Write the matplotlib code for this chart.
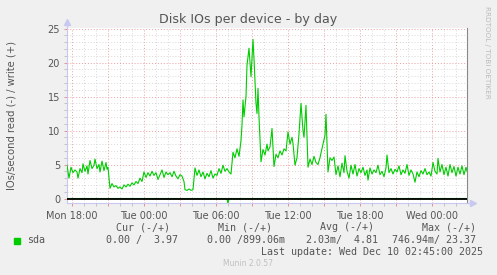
import matplotlib
matplotlib.use("Agg")
import matplotlib.pyplot as plt
from matplotlib.ticker import MultipleLocator, FuncFormatter

# 5-minute rrd slots since Mon 17:35, and write IOs/s (sda)
write_slot = [0, 2, 4, 6, 8, 10, 11, 13, 15, 16, 18, 20, 21, 23, 25, 27, 28, 30, 32, 33,
              35, 37, 39, 40, 41, 43, 45, 47, 49, 51, 53, 55, 57, 59, 61, 63, 65, 67, 69, 71,
              73, 75, 77, 79, 81, 83, 85, 87, 89, 91, 93, 95, 97, 99, 101, 103, 105, 107, 109, 111,
              113, 115, 117, 118, 120, 122, 124, 126, 128, 130, 132, 134, 136, 138, 140, 142, 144, 146, 148, 150,
              152, 154, 156, 158, 160, 162, 164, 166, 168, 170, 172, 174, 175, 176, 177, 179, 180, 182, 183, 184,
              186, 187, 189, 190, 191, 192, 194, 196, 198, 200, 201, 203, 205, 207, 209, 211, 213, 215, 217, 219,
              221, 223, 225, 226, 228, 230, 232, 234, 236, 237, 239, 241, 243, 245, 247, 249, 251, 253, 254, 256,
              258, 259, 261, 263, 265, 267, 269, 271, 273, 275, 277, 278, 280, 282, 284, 286, 288, 290, 292, 294,
              296, 298, 300, 301, 303, 305, 307, 309, 311, 313, 315, 317, 319, 320, 322, 324, 326, 328, 330, 332,
              334, 336, 338, 340, 342, 344, 346, 348, 350, 352, 354, 356, 358, 360, 362, 364, 366, 368, 370, 371,
              373, 375, 377, 379, 381, 383, 385, 387, 389, 391, 393, 395, 397, 399, 400]
write_ios = [4.9, 3.0, 4.6, 3.8, 4.2, 3.9, 3.0, 4.4, 3.8, 5.1, 4.0, 4.8, 3.6, 5.6, 4.4, 4.9, 5.8, 4.4, 5.0, 3.9,
             5.5, 4.1, 5.3, 4.3, 4.6, 1.5, 2.2, 1.7, 1.9, 1.5, 1.7, 1.4, 2.0, 1.7, 2.1, 1.8, 2.3, 2.0, 2.5, 2.2,
             3.0, 2.5, 3.9, 3.1, 3.8, 3.3, 4.0, 3.4, 3.8, 2.8, 3.5, 4.2, 3.1, 3.9, 3.5, 3.8, 3.2, 4.0, 3.3, 2.9,
             3.5, 3.3, 2.5, 1.3, 1.2, 1.4, 1.2, 1.3, 4.5, 3.4, 4.2, 3.2, 3.9, 2.9, 3.7, 3.2, 4.1, 3.0, 3.6, 3.4,
             4.4, 3.7, 4.9, 4.0, 4.4, 3.9, 3.6, 6.8, 6.0, 7.3, 6.2, 8.5, 10.8, 14.5, 12.0, 15.0, 19.6, 22.1, 20.0, 17.9,
             23.4, 20.5, 14.0, 12.5, 16.2, 12.0, 5.4, 7.2, 6.4, 8.0, 7.0, 7.6, 10.3, 4.7, 6.5, 6.0, 7.0, 6.4, 7.3, 7.0,
             9.8, 8.0, 9.0, 8.1, 4.9, 6.0, 9.5, 14.0, 10.0, 9.0, 13.7, 4.6, 5.8, 5.0, 6.2, 5.3, 5.0, 6.0, 6.7, 8.0,
             9.3, 12.4, 3.9, 6.0, 5.6, 6.1, 3.5, 4.8, 3.2, 5.2, 3.8, 6.3, 4.0, 3.0, 4.9, 3.6, 5.0, 3.3, 4.4, 3.8,
             4.6, 3.4, 4.2, 2.7, 4.5, 3.6, 4.2, 3.8, 4.9, 3.5, 4.0, 3.2, 4.5, 6.4, 3.8, 4.4, 3.6, 4.3, 3.9, 4.8,
             3.5, 4.2, 3.7, 5.0, 3.4, 4.2, 3.6, 2.4, 3.9, 3.2, 4.1, 3.6, 4.4, 3.5, 3.9, 3.3, 5.3, 4.0, 3.6, 5.9,
             3.9, 5.0, 3.5, 4.6, 3.3, 5.0, 3.8, 4.7, 3.3, 4.6, 3.6, 4.8, 3.5, 4.6, 4.0]

# read IOs/s, drawn below zero
read_slot = [0, 160, 161, 162, 400]
read_ios = [0.0, 0.0, 0.75, 0.0, 0.0]

start_hour = 17 + 35 / 60.0
n_slots = 400

day_names = {0: "Mon", 1: "Tue", 2: "Wed"}

legend_head = ["Cur (-/+)", "Min (-/+)", "Avg (-/+)", "Max (-/+)"]
legend_vals = ["0.00 /  3.97", "0.00 /899.06m", "2.03m/  4.81", "746.94m/ 23.37"]

W, H = 497, 275
fig = plt.figure(figsize=(W / 100, H / 100), dpi=100, facecolor="#f0f0f0")
ax = fig.add_axes([67 / W, 1 - 203 / H, 400 / W, (203 - 28.3) / H])
ax.set_facecolor("white")

wx = [start_hour + s * 5 / 60.0 for s in write_slot]
rx = [start_hour + s * 5 / 60.0 for s in read_slot]
ax.plot(rx, [-v for v in read_ios], color="#00cc00", lw=0.8, zorder=3)
ax.plot(wx, write_ios, color="#00cc00", lw=0.8, zorder=4)
ax.axhline(0, color="black", lw=1.3, zorder=5)

ax.set_xlim(start_hour, start_hour + n_slots * 5 / 60.0)
ax.set_ylim(-0.66, 25.03)

ax.xaxis.set_major_locator(MultipleLocator(3))
ax.xaxis.set_minor_locator(MultipleLocator(1))
ax.yaxis.set_major_locator(MultipleLocator(5))
ax.yaxis.set_minor_locator(MultipleLocator(1))


def xfmt(v, pos):
    h = int(round(v))
    if h % 6:
        return ""
    return "%s %02d:00" % (day_names[h // 24], h % 24)


ax.xaxis.set_major_formatter(FuncFormatter(xfmt))
ax.yaxis.set_major_formatter(FuncFormatter(lambda v, p: "%d" % v))

ax.grid(which="minor", color="#d8d8d8", ls=(0, (1, 2)), lw=0.7)
ax.grid(which="major", color="#eba0a0", ls=(0, (1, 2)), lw=0.7)
ax.set_axisbelow(True)

ax.tick_params(which="both", colors="#555555", labelsize=7, length=2, width=0.6, pad=3)
ax.tick_params(axis="x", which="major", color="#e88080", pad=4)
ax.tick_params(axis="x", which="minor", color="#bbbbbb")
ax.tick_params(axis="y", which="major", color="#e88080")
ax.tick_params(axis="y", which="minor", color="#bbbbbb")

ax.spines["top"].set_visible(False)
ax.spines["right"].set_color("#888888")
ax.spines["right"].set_linewidth(0.8)
ax.spines["left"].set_color("#c8c8f0")
ax.spines["bottom"].set_color("#c8c8f0")

# axis arrows like rrdtool
ax.plot([0, 0], [1, 1.035], color="#c8c8f0", lw=0.8, transform=ax.transAxes, clip_on=False)
ax.plot([0], [1.035], marker="^", ms=4, color="#c8c8f0", transform=ax.transAxes, clip_on=False)
ax.plot([1, 1.015], [0, 0], color="#c8c8f0", lw=0.8, transform=ax.transAxes, clip_on=False)
ax.plot([1.015], [0], marker=">", ms=4, color="#c8c8f0", transform=ax.transAxes, clip_on=False)

fig.text(248 / W, 1 - 19 / H, "Disk IOs per device - by day", ha="center", va="center",
         fontsize=9.1, color="#555555")
fig.text(12 / W, 1 - 116 / H, "IOs/second read (-) / write (+)", ha="center", va="center",
         rotation=90, fontsize=7.2, color="#555555")
fig.text(487 / W, 1 - 6 / H, "RRDTOOL / TOBI OETIKER", ha="center", va="top",
         rotation=270, fontsize=5.2, color="#bbbbbb")

mono = "DejaVu Sans Mono"
head_x = [170, 272, 374, 476]
val_x = [178, 285, 378, 476]
for x, t in zip(head_x, legend_head):
    fig.text(x / W, 1 - 227 / H, t, ha="right", va="center", family=mono, fontsize=7.2, color="#555555")
for x, t in zip(val_x, legend_vals):
    fig.text(x / W, 1 - 240 / H, t, ha="right", va="center", family=mono, fontsize=7.2, color="#555555")
fig.patches.append(plt.Rectangle((14 / W, 1 - 243.5 / H), 6 / W, 6 / H, transform=fig.transFigure,
                                 color="#00cc00", figure=fig))
fig.text(27 / W, 1 - 240 / H, "sda", ha="left", va="center", family=mono, fontsize=7.2, color="#555555")
fig.text(483 / W, 1 - 252 / H, "Last update: Wed Dec 10 02:45:00 2025", ha="right", va="center",
         family=mono, fontsize=7.2, color="#555555")
fig.text(248 / W, 1 - 263 / H, "Munin 2.0.57", ha="center", va="center", fontsize=5.5, color="#c0c0c0")

fig.savefig("out.png", dpi=100, facecolor=fig.get_facecolor())
